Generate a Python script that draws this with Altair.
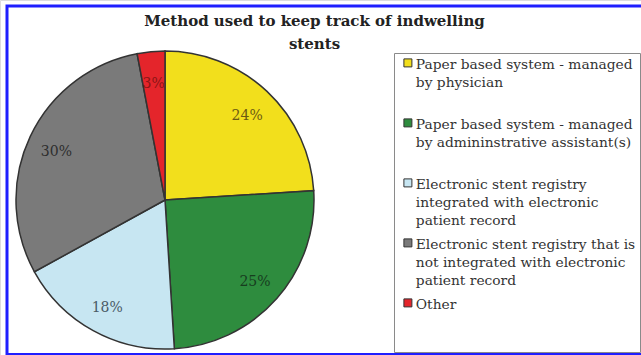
import altair as alt
import pandas as pd

categories = [
    "Paper based system - managed\nby physician",
    "Paper based system - managed\nby admininstrative assistant(s)",
    "Electronic stent registry\nintegrated with electronic\npatient record",
    "Electronic stent registry that is\nnot integrated with electronic\npatient record",
    "Other",
]
values = [24, 25, 18, 30, 3]
pct_labels = [f"{v}%" for v in values]
slice_colors = ["#f2df1c", "#2e8c3e", "#c7e6f2", "#7a7a7a", "#e4252b"]
text_colors = ["#6b5a12", "#173d1e", "#4a5a66", "#2e2e2e", "#8a1515"]

df = pd.DataFrame({"cat": categories, "value": values, "label": pct_labels, "idx": list(range(len(values)))})

FONT = "DejaVu Serif"
CX, CY = 165, 200  # pie centre

base = alt.Chart(df).encode(
    theta=alt.Theta("value:Q", stack=True),
    order=alt.Order("idx:Q"),
)

pie = base.mark_arc(outerRadius=149, stroke="#333333", strokeWidth=1.5, x=CX, y=CY).encode(
    color=alt.Color(
        "cat:N",
        sort=categories,
        scale=alt.Scale(domain=categories, range=slice_colors),
        legend=alt.Legend(
            title=" ",
            titleFontSize=1,
            titlePadding=4,
            orient="none",
            legendX=394,
            legendY=53,
            direction="vertical",
            symbolType="M-1,-2.5L1,-2.5L1,-0.5L-1,-0.5Z",
            symbolSize=64,
            symbolStrokeColor="#333333",
            symbolStrokeWidth=1,
            symbolOffset=3,
            labelFont=FONT,
            labelFontSize=13.8,
            labelColor="#333333",
            labelLimit=400,
            labelOffset=1,
            labelBaseline="alphabetic",
            labelExpr="slice(split(datum.label + '\\n \\n ', '\\n'), 0, 3)",
            rowPadding=8,
            padding=4,
            strokeColor="#8a8a8a",
            fillColor="white",
        ),
    )
)

text = base.mark_text(radius=120, dy=3, font=FONT, fontSize=14, x=CX, y=CY).encode(
    text="label:N",
    color=alt.Color("cat:N", scale=alt.Scale(domain=categories, range=text_colors), legend=None),
)

frame = alt.Chart(pd.DataFrame({"f": [0]})).mark_rect(
    fill=None, stroke="#1f1fff", strokeWidth=3
).encode(
    x=alt.value(7), x2=alt.value(700), y=alt.value(6), y2=alt.value(354.5)
)

chart = (
    alt.layer(frame, pie, text)
    .resolve_scale(color="independent")
    .properties(
        width=641,
        height=355,
        padding=0,
        autosize=alt.AutoSizeParams(type="none"),
        title=alt.TitleParams(
            ["Method used to keep track of indwelling", "stents"],
            font=FONT,
            fontSize=15,
            fontWeight="bold",
            color="#222222",
            anchor="middle",
            dx=-6,
            baseline="alphabetic",
            offset=-64,
            lineHeight=23,
        ),
    )
    .configure(style={"guide-label": {"lineHeight": 18}})
)

chart.save("out.html", embed_options={"renderer": "svg", "actions": False})
